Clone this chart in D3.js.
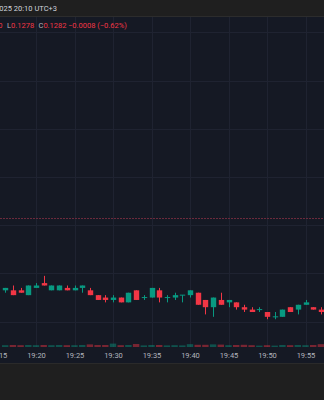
<!DOCTYPE html>
<html>
<head>
<meta charset="UTF-8">
<script src="https://d3js.org/d3.v7.min.js"></script>
<style>
  body { margin: 0; background: #1f1f1f; }
  svg { display: block; }
  text { font-family: Roboto, "Liberation Sans", sans-serif; }
</style>
</head>
<body>
<svg id="chart"></svg>
<script>
// 1 minute candles, 19:16 .. 19:57
const times = ["19:16","19:17","19:18","19:19","19:20","19:21","19:22","19:23","19:24","19:25",
  "19:26","19:27","19:28","19:29","19:30","19:31","19:32","19:33","19:34","19:35",
  "19:36","19:37","19:38","19:39","19:40","19:41","19:42","19:43","19:44","19:45",
  "19:46","19:47","19:48","19:49","19:50","19:51","19:52","19:53","19:54","19:55",
  "19:56","19:57"];
const open = [0.1293,0.1293,0.1293,0.1291,0.1294,0.1296,0.1293,0.1293,0.1294,0.1293,
  0.1294,0.1293,0.1291,0.1290,0.1289,0.1290,0.1288,0.1293,0.1290,0.1290,
  0.1293,0.1290,0.1290,0.1291,0.1291,0.1292,0.1289,0.1286,0.1289,0.1288,
  0.1288,0.1286,0.1285,0.1285,0.1284,0.1282,0.1282,0.1286,0.1285,0.1287,
  0.1286,0.1285];
const high = [0.1294,0.1295,0.1294,0.1295,0.1296,0.1299,0.1295,0.1295,0.1295,0.1295,
  0.1295,0.1294,0.1291,0.1291,0.1291,0.1290,0.1292,0.1293,0.1291,0.1294,
  0.1294,0.1291,0.1292,0.1291,0.1293,0.1292,0.1289,0.1290,0.1292,0.1289,
  0.1288,0.1287,0.1286,0.1286,0.1284,0.1284,0.1285,0.1286,0.1287,0.1289,
  0.1286,0.1286];
const low = [0.1292,0.1291,0.1292,0.1291,0.1294,0.1295,0.1293,0.1293,0.1293,0.1293,
  0.1292,0.1291,0.1289,0.1288,0.1288,0.1288,0.1288,0.1289,0.1289,0.1290,
  0.1288,0.1288,0.1289,0.1288,0.1290,0.1287,0.1283,0.1282,0.1287,0.1286,
  0.1285,0.1284,0.1284,0.1284,0.1281,0.1281,0.1282,0.1284,0.1283,0.1287,
  0.1285,0.1283];
const close = [0.1294,0.1291,0.1292,0.1295,0.1295,0.1295,0.1295,0.1295,0.1293,0.1294,
  0.1295,0.1291,0.1289,0.1289,0.1290,0.1288,0.1292,0.1289,0.1290,0.1294,
  0.1290,0.1290,0.1291,0.1291,0.1293,0.1287,0.1286,0.1290,0.1287,0.1289,
  0.1286,0.1285,0.1284,0.1285,0.1282,0.1282,0.1285,0.1284,0.1287,0.1288,
  0.1285,0.1284];
const volume = [9,10,9,10,9,10,9,10,9,9,
  10,13,10,10,17,9,10,15,8,10,
  10,8,9,8,14,11,11,13,12,9,
  10,11,9,7,9,7,10,9,10,9,
  10,14];
const tickLabels = ["19:15","19:20","19:25","19:30","19:35","19:40","19:45","19:50","19:55"];
const priceGrid = [0.1280,0.1300,0.1320,0.1340,0.1360,0.1380,0.1400];
const refPrice = 0.1323;

const W = 324, H = 400;
const up = "#089981", down = "#f23645";
const parse = d3.timeParse("%H:%M");

const svg = d3.select("#chart").attr("width", W).attr("height", H);

// backgrounds
svg.append("rect").attr("width", W).attr("height", H).attr("fill", "#1f1f1f");
svg.append("rect").attr("x", 0).attr("y", 16).attr("width", W).attr("height", 347).attr("fill", "#151924");
svg.append("line").attr("x1", 0).attr("x2", W).attr("y1", 16.5).attr("y2", 16.5).attr("stroke", "#2c2c2c");
svg.append("line").attr("x1", 0).attr("x2", W).attr("y1", 363.5).attr("y2", 363.5).attr("stroke", "#2a2a2a");

const x = d3.scaleTime()
  .domain([parse("19:20"), parse("19:55")])
  .range([36, 305.5]);
const y = d3.scaleLinear()
  .domain([0.1280, 0.1300])
  .range([321.65, 273.45]);
const v = d3.scaleLinear().domain([0, 100]).range([347, 327]);

const plot = svg.append("g");
plot.append("clipPath").attr("id", "clip")
  .append("rect").attr("x", 0).attr("y", 17).attr("width", W).attr("height", 330);

// grid
plot.selectAll(".vgrid").data(tickLabels).enter().append("line")
  .attr("x1", d => Math.round(x(parse(d))) + 0.5).attr("x2", d => Math.round(x(parse(d))) + 0.5)
  .attr("y1", 17).attr("y2", 347).attr("stroke", "#1f2331");
plot.selectAll(".hgrid").data(priceGrid).enter().append("line")
  .attr("x1", 0).attr("x2", W)
  .attr("y1", d => Math.round(y(d)) + 0.5).attr("y2", d => Math.round(y(d)) + 0.5)
  .attr("stroke", "#1f2331");

// dashed reference line
plot.append("line").attr("x1", 0).attr("x2", W)
  .attr("y1", Math.round(y(refPrice)) + 0.5).attr("y2", Math.round(y(refPrice)) + 0.5)
  .attr("stroke", "#6b2a3c").attr("stroke-dasharray", "2,1");

const data = times.map((t, i) => ({
  t: parse(t), o: open[i], h: high[i], l: low[i], c: close[i], vol: volume[i]
}));
const bw = 5.4;
const g = plot.append("g").attr("clip-path", "url(#clip)");

// volume
g.selectAll(".vol").data(data).enter().append("rect")
  .attr("x", d => x(d.t) - 3.2).attr("width", 6.4)
  .attr("y", d => v(d.vol)).attr("height", d => v(0) - v(d.vol))
  .attr("fill", d => d.c >= d.o ? up : down).attr("opacity", 0.45);

// wicks
g.selectAll(".wick").data(data).enter().append("line")
  .attr("x1", d => Math.round(x(d.t)) + 0.5).attr("x2", d => Math.round(x(d.t)) + 0.5)
  .attr("y1", d => y(d.h)).attr("y2", d => y(d.l))
  .attr("stroke", d => d.c >= d.o ? up : down).attr("stroke-width", 1);

// bodies
g.selectAll(".body").data(data).enter().append("rect")
  .attr("x", d => Math.round(x(d.t)) + 0.5 - bw / 2).attr("width", bw)
  .attr("y", d => d.o === d.c ? y(d.c) - 0.5 : y(Math.max(d.o, d.c)))
  .attr("height", d => Math.max(1, Math.abs(y(d.o) - y(d.c))))
  .attr("fill", d => d.c >= d.o ? up : down);

// time axis
const axis = svg.append("g").attr("transform", "translate(0,347)")
  .call(d3.axisBottom(x).tickValues(tickLabels.map(parse)).tickFormat(d3.timeFormat("%H:%M")).tickSize(0));
axis.select(".domain").remove();
axis.selectAll("text").attr("fill", "#b2b5be").attr("font-size", "7.5px").attr("dy", "0").attr("y", 11);

// header
svg.append("text").attr("x", 57).attr("y", 11).attr("text-anchor", "end")
  .attr("fill", "#d1d4dc").attr("font-size", "7.5px").text("Dec 31, 2025 20:10 UTC+3");

const ohlc = svg.append("text").attr("y", 28).attr("font-size", "7.5px");
ohlc.append("tspan").attr("x", -26).attr("fill", "#b2b5be").text("H");
ohlc.append("tspan").attr("fill", down).text("0.1290");
ohlc.append("tspan").attr("x", 7).attr("fill", "#b2b5be").text("L");
ohlc.append("tspan").attr("fill", down).text("0.1278");
ohlc.append("tspan").attr("x", 38.5).attr("fill", "#b2b5be").text("C");
ohlc.append("tspan").attr("fill", down).text("0.1282");
ohlc.append("tspan").attr("x", 68).attr("fill", down).text("−0.0008 (−0.62%)");
</script>
</body>
</html>
